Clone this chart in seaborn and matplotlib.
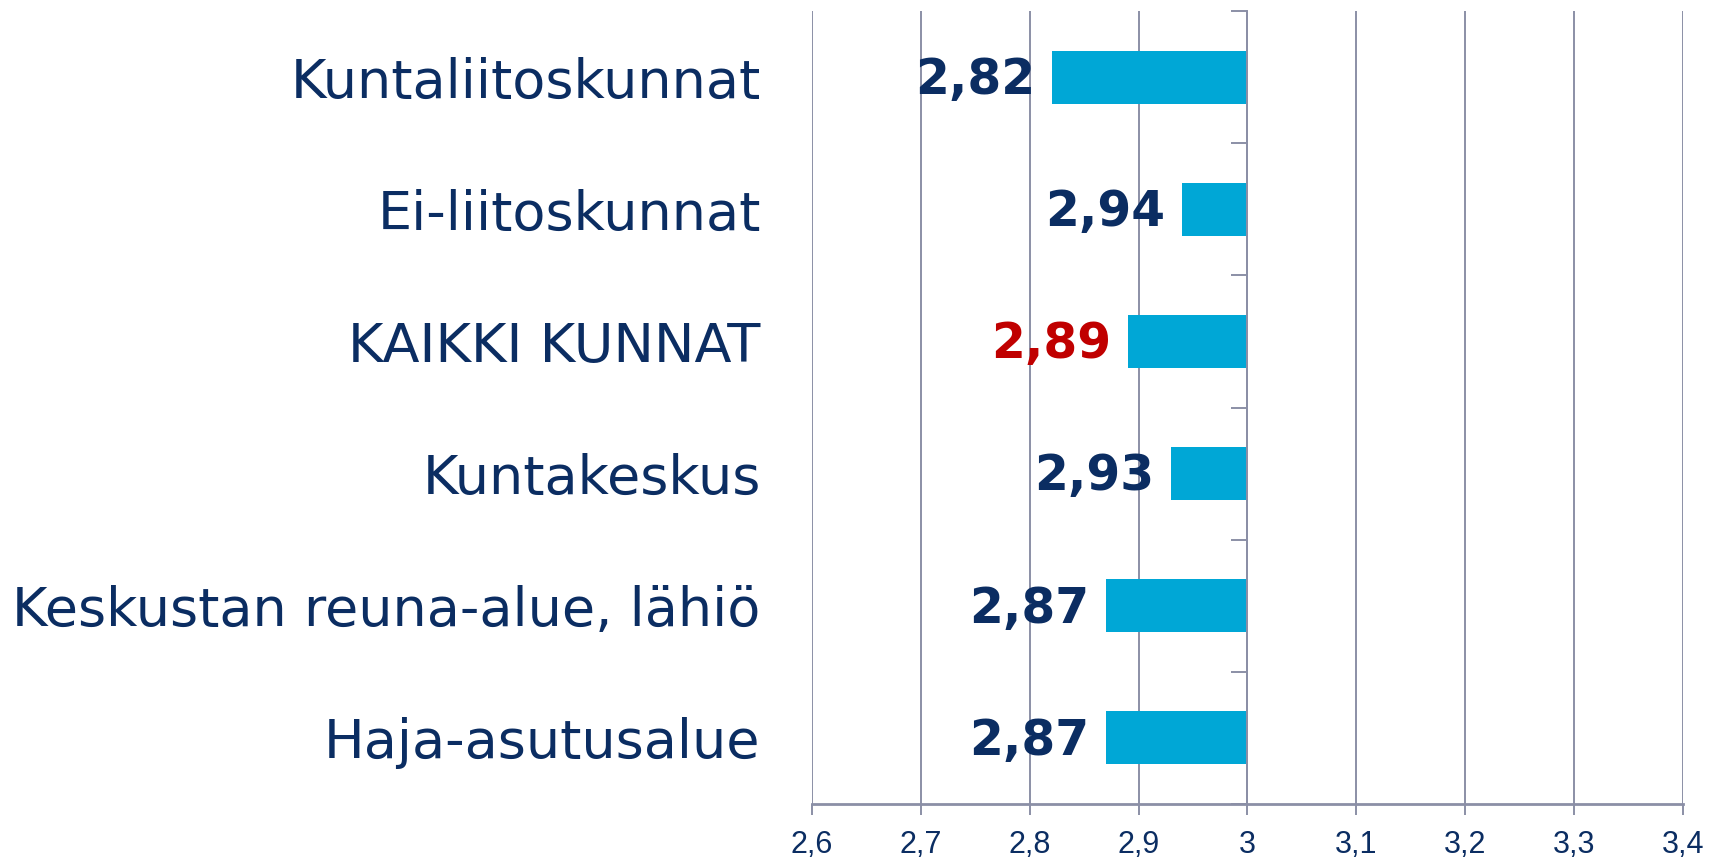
import matplotlib
matplotlib.use("Agg")
import matplotlib.pyplot as plt
import seaborn as sns
from matplotlib.ticker import FixedLocator, FuncFormatter

# Data
categories = ["Kuntaliitoskunnat", "Ei-liitoskunnat", "KAIKKI KUNNAT",
              "Kuntakeskus", "Keskustan reuna-alue, lähiö", "Haja-asutusalue"]
values = [2.82, 2.94, 2.89, 2.93, 2.87, 2.87]
label_colors = ["#0b2d62", "#0b2d62", "#c00000", "#0b2d62", "#0b2d62", "#0b2d62"]

base = 3.0
x_ticks = [2.6, 2.7, 2.8, 2.9, 3.0, 3.1, 3.2, 3.3, 3.4]

navy = "#0b2d62"
grid_color = "#8b8fa6"
bar_color = "#00a7d6"

sns.set_style("white")
plt.rcParams['font.family'] = ['DejaVu Sans']

fig = plt.figure(figsize=(17.19, 8.58), dpi=100)
ax = fig.add_axes([0.4724, 0.063, 0.979 - 0.4724, 0.987 - 0.063])

sns.barplot(x=values, y=categories, orient="h", color=bar_color,
            width=0.4, saturation=1, ax=ax)

# bars start at the baseline 3 and extend to the value
for patch, v in zip(ax.patches, values):
    patch.set_x(base)
    patch.set_width(v - base)
    patch.set_edgecolor("none")

ax.set_xlim(2.6, 3.4)
ax.set_ylim(len(categories) - 0.5, -0.5)
ax.xaxis.set_major_locator(FixedLocator(x_ticks))
ax.xaxis.set_major_formatter(FuncFormatter(lambda x, _: ("%g" % round(x, 1)).replace(".", ",")))
ax.xaxis.grid(True, color=grid_color, linewidth=1.4)
ax.set_axisbelow(True)

# value labels
for i, (v, c) in enumerate(zip(values, label_colors)):
    ax.annotate(f"{v:.2f}".replace(".", ","), xy=(v, i), xytext=(-12, -2),
                textcoords="offset points", ha="right", va="center",
                fontsize=35, fontweight="bold", color=c)

# spines
ax.spines["top"].set_visible(False)
ax.spines["left"].set_visible(False)
ax.spines["right"].set_position(("data", base))
ax.spines["right"].set_color(grid_color)
ax.spines["right"].set_linewidth(1.4)
ax.spines["bottom"].set_color(grid_color)
ax.spines["bottom"].set_linewidth(2)

# category boundary ticks on the baseline line
ax.yaxis.set_minor_locator(FixedLocator([k - 0.5 for k in range(len(categories) + 1)]))
ax.tick_params(axis="y", which="major", left=False, right=False, length=0,
               pad=37, labelsize=39, labelcolor=navy)
ax.tick_params(axis="y", which="minor", left=False, right=True, direction="in",
               length=11.5, width=1.4, color=grid_color)
ax.tick_params(axis="x", which="major", bottom=True, direction="out", length=8,
               width=1.4, color=grid_color, pad=11, labelsize=22, labelcolor=navy)
for lbl in ax.get_xticklabels():
    lbl.set_family("Liberation Sans")
ax.set_xlabel("")
ax.set_ylabel("")

fig.savefig("out.png", dpi=100)
